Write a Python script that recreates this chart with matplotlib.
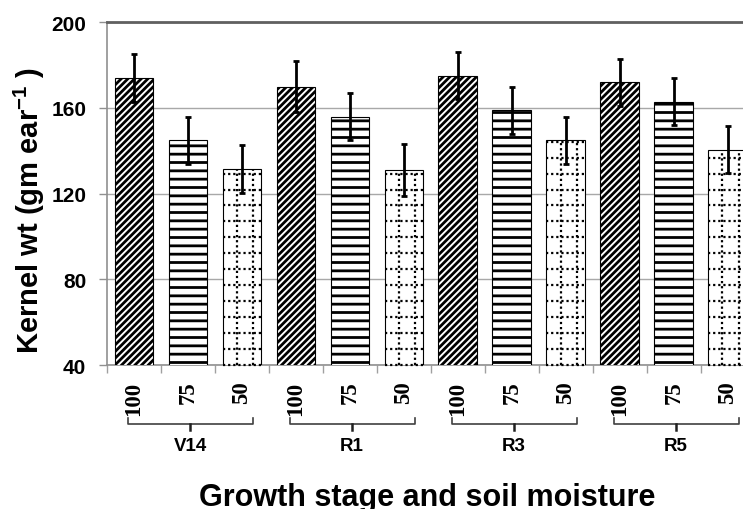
import matplotlib
matplotlib.use("Agg")
import matplotlib.pyplot as plt
import matplotlib.transforms as mtransforms
import numpy as np

stages = ["V14", "R1", "R3", "R5"]
moisture = ["100", "75", "50"]
kernel_wt = [174, 145, 131.5, 170, 156, 131, 175, 159, 145, 172, 163, 140.5]
err = [11, 11, 11, 12, 11, 12, 11, 11, 11, 11, 11, 11]

plt.rcParams["font.family"] = ["Liberation Sans", "DejaVu Sans"]
plt.rcParams["font.weight"] = "bold"
plt.rcParams["mathtext.fontset"] = "custom"
plt.rcParams["mathtext.bf"] = "Liberation Sans:bold"
plt.rcParams["mathtext.rm"] = "Liberation Sans:bold"
plt.rcParams["hatch.linewidth"] = 2.0

fig = plt.figure(figsize=(7.43, 5.1), dpi=100)
ax = fig.add_axes([0.144, 0.282, 0.872, 0.6725])

x = np.arange(len(kernel_wt))
hatches = ["/////", "--", ""] * len(stages)
bars = ax.bar(x, kernel_wt, width=0.72, color="white", edgecolor="black",
              linewidth=0.8, zorder=3)
for b, h in zip(bars, hatches):
    b.set_hatch(h)

# dotted grid fill for the 50 % bars
for i, b in enumerate(bars):
    if i % 3 != 2:
        continue
    for yy in np.arange(40, 200, 7.45):
        ln, = ax.plot([b.get_x(), b.get_x() + b.get_width()], [yy, yy],
                      color="black", lw=1.6, ls=(0, (1, 1.3)), zorder=4)
        ln.set_clip_path(b)
    for xx in np.arange(-0.5, 12, 0.3):
        ln, = ax.plot([xx, xx], [40, 200], color="black", lw=1.6,
                      ls=(0, (1, 1.3)), zorder=4)
        ln.set_clip_path(b)

ax.errorbar(x, kernel_wt, yerr=err, fmt="none", ecolor="black",
            elinewidth=2, capsize=2.5, capthick=2, zorder=5)

ax.set_xlim(-0.5, 11.5)
ax.set_ylim(40, 200)
ax.set_yticks([40, 80, 120, 160, 200])
ax.tick_params(axis="y", length=6, color="#909090", width=1, labelsize=15, pad=9)
ax.yaxis.grid(True, color="#a8a8a8", lw=1, zorder=0)

ax.set_xticks(x)
ax.set_xticklabels(moisture * len(stages), rotation=90,
                   fontfamily="Liberation Serif", fontsize=16.5, fontweight="bold")
ax.tick_params(axis="x", length=0, pad=11)
ax.set_xticks(np.arange(-0.5, 12, 1), minor=True)
ax.tick_params(axis="x", which="minor", length=6, color="#a0a0a0", width=1)

for s in ["left", "bottom"]:
    ax.spines[s].set_color("#909090")
    ax.spines[s].set_linewidth(1.2)
ax.spines["top"].set_color("#606060")
ax.spines["top"].set_linewidth(2)
ax.spines["right"].set_visible(False)

trans = mtransforms.blended_transform_factory(ax.transData, ax.transAxes)
for g, name in enumerate(stages):
    c = g * 3 + 1
    left, right = c - 1.11, c + 1.2
    ax.plot([left, left, right, right], [-0.155, -0.172, -0.172, -0.155],
            transform=trans, color="#404040", lw=1.2, clip_on=False)
    ax.plot([c + 0.04, c + 0.04], [-0.172, -0.19], transform=trans,
            color="#202020", lw=1.8, clip_on=False)
    ax.text(c + 0.04, -0.235, name, transform=trans, ha="center", va="center",
            fontsize=13.5, fontweight="bold")

ax.set_ylabel("Kernel wt (gm ear$^{\\mathbf{-1}}$ )", fontsize=21, fontweight="bold")
ax.yaxis.set_label_coords(-0.092, 0.455)
ax.set_xlabel("Growth stage and soil moisture", fontsize=22, fontweight="bold")
ax.xaxis.set_label_coords(0.494, -0.342)

fig.savefig("out.png", dpi=100)
